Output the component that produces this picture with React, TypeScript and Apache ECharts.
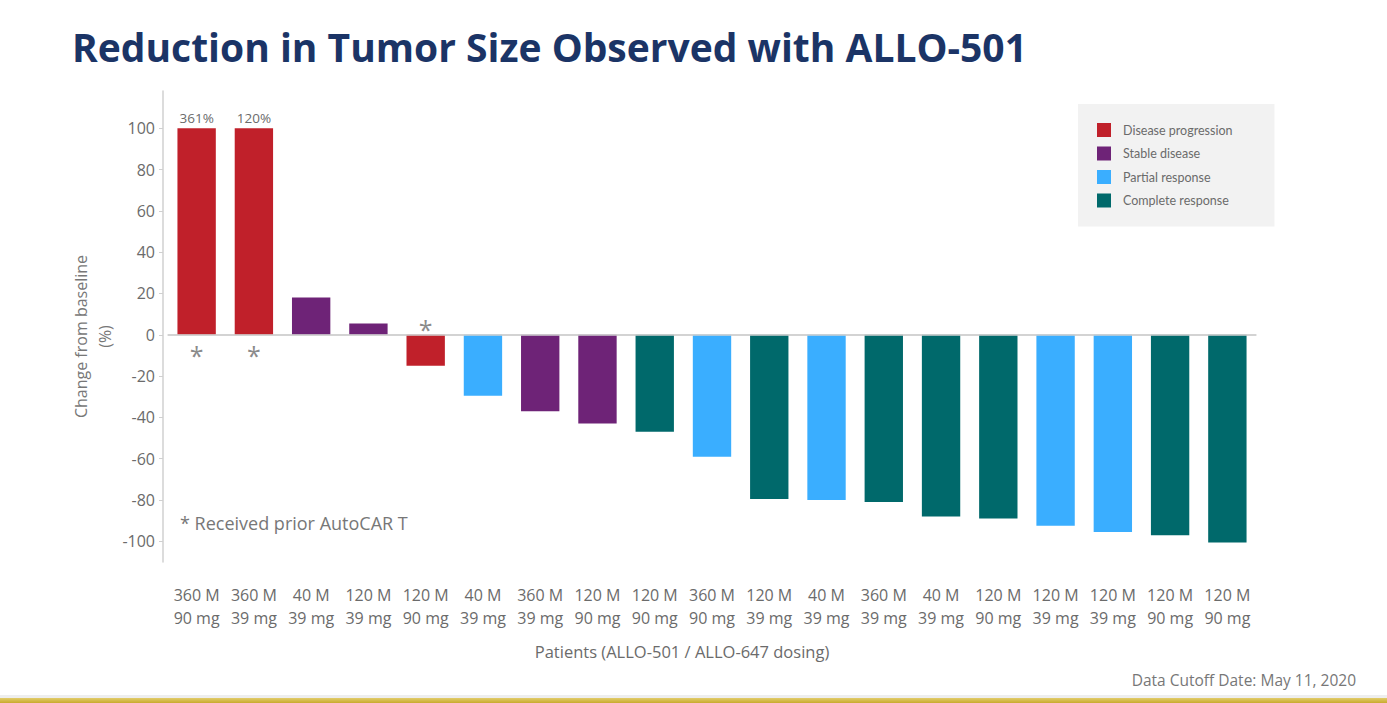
import React, { useEffect, useRef } from 'react';
import * as echarts from 'echarts';

// patients, left to right, as dosing labels
const patients = [
    '360 M\n90 mg', '360 M\n39 mg', '40 M\n39 mg', '120 M\n39 mg', '120 M\n90 mg',
    '40 M\n39 mg', '360 M\n39 mg', '120 M\n90 mg', '120 M\n90 mg', '360 M\n90 mg',
    '120 M\n39 mg', '40 M\n39 mg', '360 M\n39 mg', '40 M\n39 mg', '120 M\n90 mg',
    '120 M\n39 mg', '120 M\n39 mg', '120 M\n90 mg', '120 M\n90 mg',
];

// change from baseline (%), capped at 100 for the plot
const changes = [100, 100, 18, 5.5, -15, -29.5, -37, -43, -47, -59, -79.5, -80, -81, -88, -89, -92.5, -95.5, -97, -100.5];

// real value printed over capped bars
const overLabels = ['361%', '120%', '', '', '', '', '', '', '', '', '', '', '', '', '', '', '', '', ''];

// response per patient
const responses = ['DP', 'DP', 'SD', 'SD', 'DP', 'PR', 'SD', 'SD', 'CR', 'PR', 'CR', 'PR', 'CR', 'CR', 'CR', 'PR', 'PR', 'CR', 'CR'];

// received prior AutoCAR T
const priorAutoCar = [true, true, false, false, true, false, false, false, false, false, false, false, false, false, false, false, false, false, false];

const responseTypes = [
    { key: 'DP', name: 'Disease progression', color: '#C0202A' },
    { key: 'SD', name: 'Stable disease', color: '#6E2377' },
    { key: 'PR', name: 'Partial response', color: '#3AAEFF' },
    { key: 'CR', name: 'Complete response', color: '#00696B' },
];

const yTicks = [-100, -80, -60, -40, -20, 0, 20, 40, 60, 80, 100];

const grey = '#6b6b6b';
const font = '"Open Sans", sans-serif';
const legendFont = 'Lato, sans-serif';

const App: React.FC = () => {
    const chartRef = useRef<HTMLDivElement>(null);

    useEffect(() => {
        if (!chartRef.current) return;
        document.body.style.margin = '0';

        const chart = echarts.init(chartRef.current, null, { renderer: 'svg' });

        const barSeries = responseTypes.map(rt => ({
            name: rt.name,
            type: 'bar' as const,
            stack: 'all',
            barCategoryGap: '33%',
            itemStyle: { color: rt.color },
            data: changes.map((v, i) => {
                if (responses[i] !== rt.key) return '-';
                if (overLabels[i]) {
                    return {
                        value: v,
                        label: {
                            show: true,
                            position: 'top',
                            distance: 3,
                            formatter: overLabels[i],
                            color: grey,
                            fontSize: 13.5,
                            fontFamily: font,
                        },
                    };
                }
                return v;
            }),
        }));

        const starSeries = {
            type: 'scatter' as const,
            symbolSize: 0,
            silent: true,
            z: 5,
            data: priorAutoCar.map((flag, i) => {
                if (!flag) return '-';
                const up = changes[i] < 0;
                return {
                    value: 0,
                    label: {
                        show: true,
                        formatter: '*',
                        position: up ? 'top' : 'bottom',
                        distance: up ? -7 : 8,
                        color: grey,
                        fontSize: 25,
                        fontFamily: font,
                    },
                };
            }),
        };

        const option = {
            animation: false,
            backgroundColor: '#ffffff',
            textStyle: { fontFamily: font },
            title: {
                text: 'Reduction in Tumor Size Observed with ALLO-501',
                left: 67,
                top: 22,
                textStyle: { color: '#1B3466', fontSize: 39, fontWeight: 'bold', fontFamily: font },
            },
            legend: {
                orient: 'vertical',
                left: 1078,
                top: 104,
                padding: [19, 42, 19, 19],
                backgroundColor: '#F2F2F2',
                icon: 'rect',
                itemWidth: 14,
                itemHeight: 14,
                itemGap: 9.5,
                data: responseTypes.map(rt => rt.name),
                textStyle: { color: grey, fontSize: 12.5, fontFamily: legendFont, padding: [0, 0, 0, 7] },
            },
            grid: { left: 168, right: 131, top: 91, bottom: 141 },
            xAxis: {
                type: 'category',
                data: patients,
                name: 'Patients (ALLO-501 / ALLO-647 dosing)',
                nameLocation: 'middle',
                nameGap: 81,
                nameTextStyle: { color: grey, fontSize: 16.5, fontFamily: font, padding: [0, 60, 0, 0] },
                axisLine: { lineStyle: { color: '#d0d0d0', width: 1.5 } },
                axisTick: { alignWithLabel: true, length: 5, lineStyle: { color: '#d0d0d0' } },
                axisLabel: { color: grey, fontSize: 16, lineHeight: 23, margin: 21, interval: 0, fontFamily: font },
            },
            yAxis: {
                type: 'value',
                min: -110,
                max: 118,
                offset: 5,
                name: 'Change from baseline\n(%)',
                nameLocation: 'middle',
                nameGap: 46,
                nameMoveOverlap: false,
                nameRotate: 90,
                nameTextStyle: {
                    color: '#777777',
                    fontSize: 16,
                    lineHeight: 24,
                    fontFamily: font,
                    padding: [0, 20, 0, 0],
                },
                axisLine: { show: true, lineStyle: { color: '#d0d0d0', width: 1.5 } },
                axisTick: { show: true, length: 4, customValues: yTicks, lineStyle: { color: '#d0d0d0' } },
                axisLabel: { color: grey, fontSize: 16, margin: 8, customValues: yTicks, fontFamily: font },
                splitLine: { show: false },
            },
            graphic: [
                {
                    type: 'text',
                    left: 180,
                    top: 514,
                    style: { text: '* Received prior AutoCAR T', fill: '#777777', fontSize: 18, fontFamily: font },
                },
                {
                    type: 'text',
                    right: 31,
                    top: 672,
                    style: { text: 'Data Cutoff Date: May 11, 2020', fill: '#777777', fontSize: 15.5, fontFamily: font },
                },
                {
                    type: 'rect',
                    left: 0,
                    top: 695,
                    shape: { width: 1387, height: 3 },
                    style: { fill: '#EEEEEE' },
                    silent: true,
                },
                {
                    type: 'rect',
                    left: 0,
                    top: 698,
                    shape: { width: 1387, height: 5 },
                    style: {
                        fill: new echarts.graphic.LinearGradient(0, 0, 0, 1, [
                            { offset: 0, color: '#E2CC6A' },
                            { offset: 1, color: '#C8AA2E' },
                        ]),
                    },
                    silent: true,
                },
            ],
            series: [
                ...barSeries,
                {
                    type: 'line',
                    data: [],
                    markLine: {
                        silent: true,
                        symbol: 'none',
                        label: { show: false },
                        lineStyle: { color: '#d0d0d0', width: 1.5, type: 'solid' },
                        data: [{ yAxis: 0 }],
                    },
                },
                starSeries,
            ],
        };

        chart.setOption(option as any);
        const resize = () => chart.resize();
        window.addEventListener('resize', resize);

        return () => {
            window.removeEventListener('resize', resize);
            chart.dispose();
        };
    }, []);

    return <div ref={chartRef} style={{ width: '1387px', height: '703px' }} />;
};

export default App;
